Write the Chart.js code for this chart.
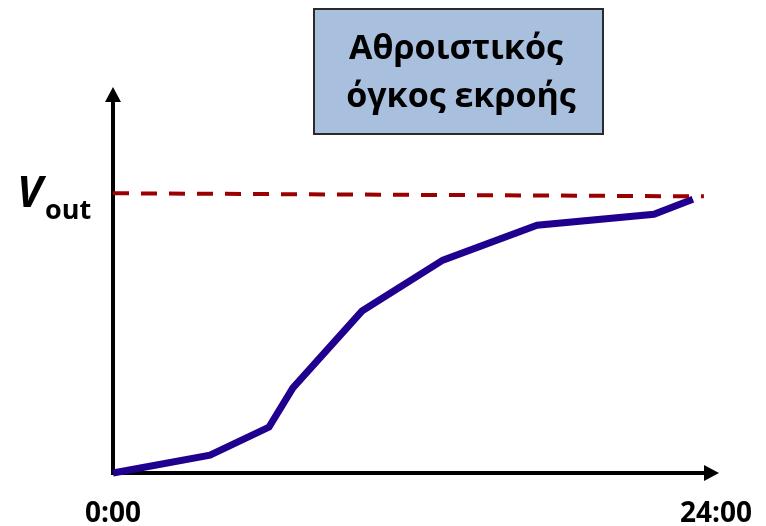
<!DOCTYPE html>
<html>
<head>
<meta charset="utf-8">
<script src="https://cdn.jsdelivr.net/npm/chart.js@4.4.1/dist/chart.umd.min.js"></script>
<style>
  html, body { margin: 0; padding: 0; background: #fff; }
  #wrap { width: 766px; height: 526px; }
</style>
</head>
<body>
<div id="wrap"><canvas id="volumeChart" width="766" height="526"></canvas></div>
<script>
// Αθροιστικός όγκος εκροής - καμπύλη
const hours = [0, 3.86, 6.21, 7.16, 9.91, 13.13, 16.88, 21.53, 23.08];
const volume = [0, 6.4, 16.4, 30.4, 57.9, 76.1, 88.6, 92.5, 97.9];
const voutHours = [0, 23.52];
const voutLevel = [100, 98.9];
const tickValues = [0, 24];
const tickLabels = ['0:00', '24:00'];
const titleLines = ['Αθροιστικός', 'όγκος εκροής'];

const FONT = '"Open Sans", "Noto Sans", sans-serif';

// άξονες με βέλη, ετικέτα V_out και πλαίσιο τίτλου
const decorations = {
  id: 'decorations',
  beforeDatasetsDraw(chart) {
    const { ctx, chartArea: a } = chart;
    ctx.save();
    ctx.strokeStyle = '#000';
    ctx.fillStyle = '#000';
    ctx.lineWidth = 4;
    ctx.beginPath();
    ctx.moveTo(a.left, a.bottom + 2);
    ctx.lineTo(a.left, a.top + 12);
    ctx.moveTo(a.left - 2, a.bottom);
    ctx.lineTo(a.right - 12, a.bottom);
    ctx.stroke();
    // βέλος y
    ctx.beginPath();
    ctx.moveTo(a.left, a.top);
    ctx.lineTo(a.left - 8, a.top + 15);
    ctx.lineTo(a.left + 8, a.top + 15);
    ctx.closePath();
    ctx.fill();
    // βέλος x
    ctx.beginPath();
    ctx.moveTo(a.right, a.bottom);
    ctx.lineTo(a.right - 15, a.bottom - 8);
    ctx.lineTo(a.right - 15, a.bottom + 8);
    ctx.closePath();
    ctx.fill();
    ctx.restore();
  },
  afterDraw(chart) {
    const { ctx } = chart;
    const yv = chart.scales.y.getPixelForValue(voutLevel[0]);
    ctx.save();
    ctx.fillStyle = '#000';
    ctx.textBaseline = 'alphabetic';
    ctx.textAlign = 'left';
    ctx.font = 'italic bold 43px ' + FONT;
    ctx.fillText('V', 17, yv + 14);
    ctx.font = 'bold 27px ' + FONT;
    ctx.fillText('out', 45, yv + 26);

    // πλαίσιο τίτλου
    ctx.fillStyle = '#A8BFDD';
    ctx.fillRect(314, 9, 289, 125);
    ctx.strokeStyle = '#2a2a2a';
    ctx.lineWidth = 2;
    ctx.strokeRect(314, 9, 289, 125);
    ctx.fillStyle = '#000';
    ctx.textAlign = 'center';
    ctx.font = 'bold 34px ' + FONT;
    ctx.fillText(titleLines[0], 456, 59);
    ctx.fillText(titleLines[1], 461, 107);
    ctx.restore();
  }
};

new Chart(document.getElementById('volumeChart'), {
  type: 'line',
  data: {
    datasets: [{
      label: 'V_out',
      data: voutHours.map((h, i) => ({ x: h, y: voutLevel[i] })),
      borderColor: '#9B0000',
      borderWidth: 4,
      borderDash: [16, 12],
      pointRadius: 0,
      clip: false
    }, {
      label: 'Αθροιστικός όγκος',
      data: hours.map((h, i) => ({ x: h, y: volume[i] })),
      borderColor: '#20008E',
      borderWidth: 7,
      borderJoinStyle: 'miter',
      pointRadius: 0,
      tension: 0,
      clip: false
    }]
  },
  plugins: [decorations],
  options: {
    responsive: false,
    animation: false,
    devicePixelRatio: 1,
    layout: { padding: { left: 113, right: 47, top: 87, bottom: 0 } },
    plugins: {
      legend: { display: false },
      tooltip: { enabled: false }
    },
    scales: {
      x: {
        type: 'linear',
        min: 0,
        max: 24.12,
        afterBuildTicks(scale) {
          scale.ticks = tickValues.map(v => ({ value: v }));
        },
        afterFit(scale) {
          scale.height = 53;
          scale.paddingLeft = 0;
          scale.paddingRight = 0;
        },
        ticks: {
          autoSkip: false,
          maxRotation: 0,
          padding: 24,
          color: '#000',
          font: { family: FONT, size: 28, weight: 'bold' },
          callback: (v) => tickLabels[tickValues.indexOf(v)]
        },
        grid: { display: false, drawTicks: false },
        border: { display: false }
      },
      y: {
        display: false,
        min: 0,
        max: 138
      }
    }
  }
});
</script>
</body>
</html>
